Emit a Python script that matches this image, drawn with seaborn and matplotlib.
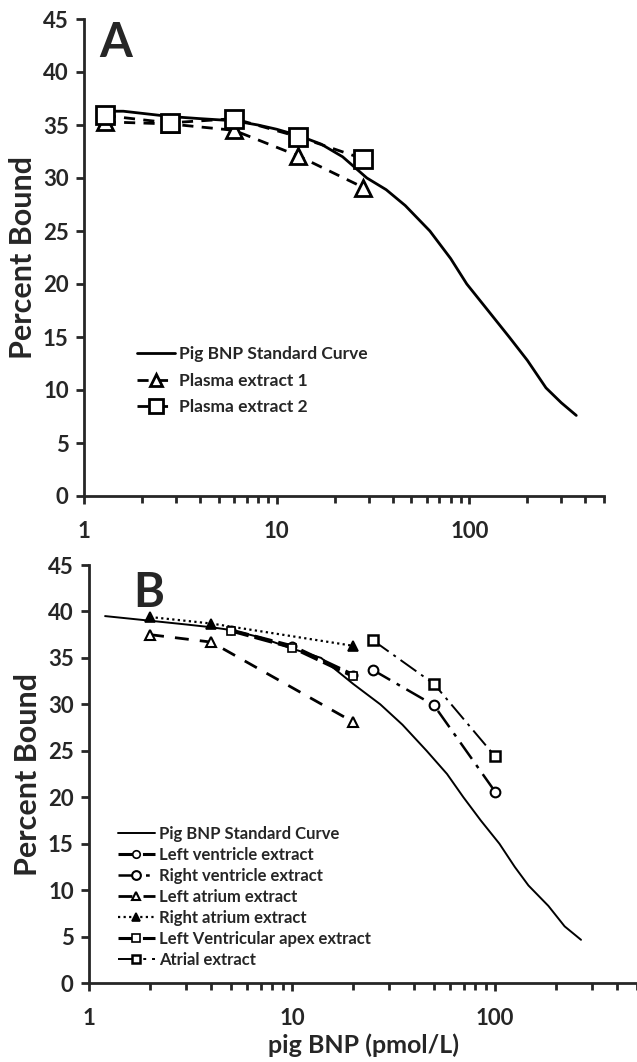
import matplotlib
matplotlib.use("Agg")
import matplotlib.pyplot as plt
import seaborn as sns

# Panel A: standard curve and plasma extracts
std_a_x = [1.24, 1.6, 2.0, 2.8, 4.0, 6.0, 8.0, 10, 13, 17, 22, 29.4, 37, 46.5, 62.4, 80, 97, 125, 161, 200, 250, 300, 359]
std_a_y = [36.3, 36.3, 36.1, 35.8, 35.6, 35.4, 35.0, 34.6, 34.0, 33.2, 32.0, 30.0, 28.9, 27.4, 25.0, 22.4, 20.0, 17.5, 15.0, 12.8, 10.2, 8.8, 7.6]
plasma_x = [1.28, 2.78, 6.0, 12.9, 28.2]
plasma1_y = [35.3, 35.1, 34.5, 32.1, 29.1]
plasma2_y = [35.9, 35.2, 35.6, 33.9, 31.8]

# Panel B: standard curve and tissue extracts
std_b_x = [1.2, 2.0, 3.0, 4.0, 5.0, 7.0, 10, 13.9, 20, 27.2, 35, 46, 58, 69.8, 85, 105, 125, 146, 183, 220, 265]
std_b_y = [39.5, 39.0, 38.6, 38.3, 38.0, 37.2, 36.0, 35.0, 32.2, 30.0, 27.8, 25.0, 22.5, 20.0, 17.5, 15.0, 12.5, 10.5, 8.3, 6.1, 4.65]
lv_x = [5, 10, 20]
lv_y = [38.0, 36.3, 33.2]
lva_x = [5, 10, 20]
lva_y = [37.9, 36.1, 33.0]
rv_x = [25, 50, 100]
rv_y = [33.7, 29.9, 20.6]
la_x = [2, 4, 20]
la_y = [37.5, 36.7, 28.1]
ra_x = [2, 4, 20]
ra_y = [39.4, 38.7, 36.3]
atrial_x = [25, 50, 100]
atrial_y = [36.9, 32.2, 24.4]

y_ticks = list(range(0, 50, 5))
x_ticks = [1, 10, 100]
x_ticklabels = ["1", "10", "100"]

sns.set_style("ticks")
plt.rcParams["font.family"] = ["Lato", "DejaVu Sans"]
plt.rcParams["font.weight"] = "bold"

W, H = 637, 1062
fig = plt.figure(figsize=(W / 100, H / 100), dpi=100)
ax_a = fig.add_axes([84 / W, 1 - 496 / H, 520 / W, 477 / H])
ax_b = fig.add_axes([89 / W, 1 - 983 / H, 548 / W, 418 / H])


def line(ax, x, y, label, ls="-", lw=2.0, marker=None, ms=8, mfc="white", mew=2.0):
    sns.lineplot(x=x, y=y, ax=ax, color="black", estimator=None, sort=False, label=label,
                 linestyle=ls, linewidth=lw, marker=marker, markersize=ms,
                 markerfacecolor=mfc, mec="black", mew=mew)


def style_axis(ax, letter, lx, ly):
    ax.set_xscale("log")
    ax.set_xlim(1, 500)
    ax.set_ylim(0, 45)
    ax.set_yticks(y_ticks)
    ax.set_xticks(x_ticks)
    ax.set_xticklabels(x_ticklabels)
    sns.despine(ax=ax)
    for s in ("left", "bottom"):
        ax.spines[s].set_linewidth(2)
    ax.tick_params(axis="both", which="major", length=6, width=2, labelsize=16, pad=5)
    ax.tick_params(axis="x", which="minor", length=5, width=2)
    ax.tick_params(axis="x", which="major", pad=12)
    for t in ax.get_xticklabels() + ax.get_yticklabels():
        t.set_fontweight("bold")
    ax.set_ylabel("Percent Bound", fontsize=22, fontweight="bold", labelpad=4)
    ax.text(lx, ly, letter, transform=ax.transAxes, fontsize=34, fontweight="bold", va="top")


# Panel A
line(ax_a, std_a_x, std_a_y, "Pig BNP Standard Curve", lw=2.0)
line(ax_a, plasma_x, plasma1_y, "Plasma extract 1", ls=(0, (4, 3)), marker="^", ms=12)
line(ax_a, plasma_x, plasma2_y, "Plasma extract 2", ls=(0, (4, 3)), marker="s", ms=13)
style_axis(ax_a, "A", 0.03, 0.995)
ax_a.set_xlabel("")
ax_a.legend(loc="upper left", bbox_to_anchor=(0.085, 0.333), frameon=False, borderpad=0,
            prop={"size": 12.5, "weight": "bold"},
            handlelength=2.2, handletextpad=0.25, labelspacing=0.62, markerscale=0.75)

# Panel B
line(ax_b, std_b_x, std_b_y, "Pig BNP Standard Curve", lw=1.4)
line(ax_b, lv_x, lv_y, "Left ventricle extract", ls=(0, (6, 2)), lw=2.2, marker="o", ms=6, mew=1.2)
line(ax_b, rv_x, rv_y, "Right ventricle extract", ls=(0, (8, 3, 1.5, 3)), lw=1.8, marker="o", ms=7, mew=1.5)
line(ax_b, la_x, la_y, "Left atrium extract", ls=(0, (5, 4)), lw=2.0, marker="^", ms=7, mew=1.5)
line(ax_b, ra_x, ra_y, "Right atrium extract", ls=(0, (1, 1.5)), lw=1.6, marker="^", ms=7, mfc="black", mew=1.2)
line(ax_b, lva_x, lva_y, "Left Ventricular apex extract", ls=(0, (6, 2)), lw=2.2, marker="s", ms=6, mew=1.2)
line(ax_b, atrial_x, atrial_y, "Atrial extract", ls=(0, (10, 3, 1.5, 3)), lw=1.4, marker="s", ms=7, mew=1.8)
style_axis(ax_b, "B", 0.08, 0.985)
ax_b.set_xlabel("pig BNP (pmol/L)", fontsize=18, fontweight="bold", labelpad=3)
ax_b.legend(loc="upper left", bbox_to_anchor=(0.038, 0.395), frameon=False, borderpad=0,
            prop={"size": 12, "weight": "bold"},
            handlelength=2.2, handletextpad=0.25, labelspacing=0.3, markerscale=0.9)

fig.savefig("out.png", dpi=100)
